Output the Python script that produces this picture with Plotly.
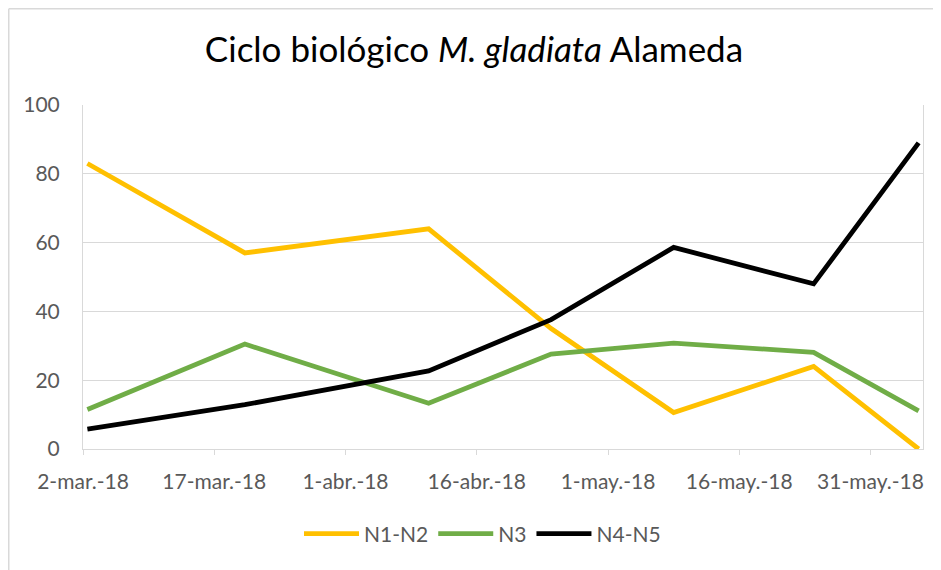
import pandas as pd
import plotly.graph_objects as go

dates = ["2018-03-02", "2018-03-20", "2018-04-10", "2018-04-24", "2018-05-08", "2018-05-24", "2018-06-05"]
n1_n2 = [83, 57, 64, 35, 10.6, 24, 0]
n3 = [11.5, 30.5, 13.3, 27.6, 30.8, 28.1, 11.1]
n4_n5 = [5.8, 12.9, 22.7, 37.6, 58.6, 48.0, 89]

tick_dates = ["2018-03-02", "2018-03-17", "2018-04-01", "2018-04-16", "2018-05-01", "2018-05-16", "2018-05-31"]
tick_labels = ["2-mar.-18", "17-mar.-18", "1-abr.-18", "16-abr.-18", "1-may.-18", "16-may.-18", "31-may.-18"]
y_ticks = [0, 20, 40, 60, 80, 100]

series = [("N1-N2", n1_n2, "#FFC000"), ("N3", n3, "#70AD47"), ("N4-N5", n4_n5, "#000000")]

# Excel date axis places each point in the middle of its day
x_vals = pd.to_datetime(dates) + pd.Timedelta(hours=12)

FONT = "Lato, Carlito, Calibri, sans-serif"
L, R, T, B = 75, 18, 97, 121
W, H = 933, 562
PW, PH = W - L - R, H - T - B

fig = go.Figure()
for name, vals, color in series:
    fig.add_trace(go.Scatter(x=x_vals, y=vals, name=name, mode="lines",
                             line=dict(color=color, width=4.8)))

top_edge = 1 + (T - 0.75) / PH
left_edge = (-L + 0.75) / PW
fig.update_layout(
    width=W, height=H,
    margin=dict(l=L, r=R, t=T, b=B),
    paper_bgcolor="white", plot_bgcolor="white",
    font=dict(family=FONT, color="#595959", size=21),
    title=dict(text="Ciclo biológico <i>M. gladiata</i> Alameda", x=(474 - 8) / W, xanchor="center",
               y=1 - 42 / H, yanchor="middle", font=dict(family=FONT, size=35, color="#000000")),
    showlegend=True,
    legend=dict(orientation="h", x=(474.5 - L) / PW, xanchor="center", y=(449 - 534) / 344, yanchor="middle",
                font=dict(size=21, color="#595959"), itemwidth=55, tracegroupgap=0),
    shapes=[
        dict(type="line", xref="paper", yref="paper",
             x0=left_edge, x1=(W - L) / PW, y0=top_edge, y1=top_edge,
             line=dict(color="#D9D9D9", width=1.5)),
        dict(type="line", xref="paper", yref="paper",
             x0=left_edge, x1=left_edge, y0=-B / PH, y1=top_edge,
             line=dict(color="#D9D9D9", width=1.5)),
    ],
)
fig.update_xaxes(
    type="date", range=["2018-03-02", "2018-06-06"],
    tickvals=tick_dates, ticktext=tick_labels,
    showgrid=False, showline=True, linecolor="#D9D9D9", linewidth=1,
    ticks="outside", ticklen=5, tickcolor="#D9D9D9", ticklabelstandoff=9,
    tickfont=dict(size=21, color="#595959"), zeroline=False,
)
fig.update_yaxes(
    range=[0, 100], tickvals=y_ticks,
    showgrid=True, gridcolor="#D9D9D9", gridwidth=1,
    showline=True, mirror=True, linecolor="#D9D9D9", linewidth=1,
    ticks="", ticklabelstandoff=18, zeroline=False,
    tickfont=dict(size=21, color="#595959"),
)
fig.write_html("out.html")
